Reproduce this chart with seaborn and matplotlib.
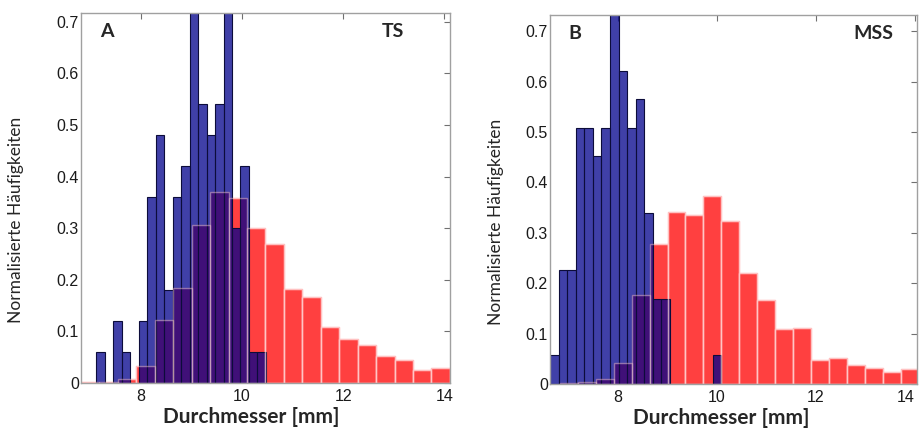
import matplotlib
matplotlib.use("Agg")
import matplotlib.pyplot as plt
import matplotlib.ticker as mticker
import seaborn as sns
import numpy as np
import pandas as pd

# Panel A (TS): bin ranges and normalised heights, 20 bins each
ts_blue_range = (7.126, 10.473)
ts_blue = [0.06, 0, 0.12, 0.06, 0, 0.12, 0.36, 0.48, 0.18, 0.36,
           0.42, 0.78, 0.54, 0.48, 0.54, 0.78, 0.30, 0.42, 0.06, 0.06]
ts_red_range = (6.82, 14.11)
ts_red = [0.002, 0.002, 0.008, 0.033, 0.122, 0.185, 0.307, 0.370, 0.359, 0.301,
          0.270, 0.182, 0.167, 0.108, 0.085, 0.073, 0.052, 0.044, 0.025, 0.029]

# Panel B (MSS)
mss_blue_range = (6.635, 10.10)
mss_blue = [0.057, 0.226, 0.226, 0.508, 0.508, 0.452, 0.508, 0.79, 0.621, 0.508,
            0.565, 0.339, 0.169, 0.169, 0, 0, 0, 0, 0, 0.057]
mss_red_range = (6.837, 14.08)
mss_red = [0.002, 0.003, 0.009, 0.041, 0.177, 0.277, 0.341, 0.335, 0.374, 0.323,
           0.220, 0.167, 0.110, 0.112, 0.048, 0.051, 0.038, 0.031, 0.023, 0.029]

x_ticks = [8, 10, 12, 14]
y_ticks = [0, 0.1, 0.2, 0.3, 0.4, 0.5, 0.6, 0.7]

sns.set_style("white")
plt.rcParams['font.family'] = ['Liberation Sans', 'DejaVu Sans']


def draw_hist(ax, rng, heights, **kws):
    edges = np.linspace(rng[0], rng[1], len(heights) + 1)
    df = pd.DataFrame({'d': (edges[:-1] + edges[1:]) / 2, 'h': heights})
    sns.histplot(data=df, x='d', weights='h', bins=list(edges), ax=ax, **kws)


def draw_panel(ax, blue_rng, blue, red_rng, red, xlim, ylim, letter, tag, tag_x):
    # red first, blue (transparent) on top, then red outlines again
    draw_hist(ax, red_rng, red, color=(1, 0, 0), alpha=0.75,
              edgecolor=(1, 0.72, 0.72), linewidth=1.0)
    draw_hist(ax, blue_rng, blue, color=(0, 0, 0.545), alpha=0.75,
              edgecolor='#0c0c3a', linewidth=0.8)
    draw_hist(ax, red_rng, red, fill=False, color=(1, 0.8, 0.8), alpha=0.45,
              linewidth=1.0)

    ax.set_xlim(*xlim)
    ax.set_ylim(*ylim)
    ax.set_xticks(x_ticks)
    ax.set_yticks(y_ticks)
    ax.yaxis.set_major_formatter(mticker.FormatStrFormatter('%g'))
    ax.tick_params(direction='in', length=4, width=0.8, color='#707070',
                   top=True, right=True, labelsize=11.5, labelcolor='#1a1a1a')
    ax.tick_params(axis='y', pad=1.5)
    ax.tick_params(axis='x', pad=4)
    for sp in ax.spines.values():
        sp.set_color('#a0a0a0')
        sp.set_linewidth(1.0)

    ax.set_xlabel("Durchmesser [mm]", family='Lato', fontweight='bold',
                  fontsize=15)
    ax.set_ylabel("Normalisierte Häufigkeiten", family='Lato', fontsize=12.5)

    ax.text(0.051, 0.95, letter, transform=ax.transAxes, family='Lato',
            fontweight='bold', fontsize=14, va='center', ha='left')
    ax.text(tag_x, 0.95, tag, transform=ax.transAxes, family='Lato',
            fontweight='bold', fontsize=14, va='center', ha='right')


fig = plt.figure(figsize=(9.19, 4.30), dpi=100)
ax1 = fig.add_axes([0.0881, 0.1093, 0.4015, 0.8605])
ax2 = fig.add_axes([0.5985, 0.1070, 0.3993, 0.8590])

draw_panel(ax1, ts_blue_range, ts_blue, ts_red_range, ts_red,
           (6.82, 14.11), (0, 0.717), "A", "TS", 0.875)
draw_panel(ax2, mss_blue_range, mss_blue, mss_red_range, mss_red,
           (6.635, 14.05), (0, 0.733), "B", "MSS", 0.937)

ax1.yaxis.set_label_coords(-0.155, 0.44)
ax2.yaxis.set_label_coords(-0.125, 0.44)
ax1.xaxis.set_label_coords(0.462, -0.066)
ax2.xaxis.set_label_coords(0.466, -0.066)
ax1.xaxis.label.set_va('top')
ax2.xaxis.label.set_va('top')

# keep the last tick label of panel B inside the figure
ax2.get_xticklabels()[-1].set_ha('right')

fig.savefig("out.png", dpi=100)
